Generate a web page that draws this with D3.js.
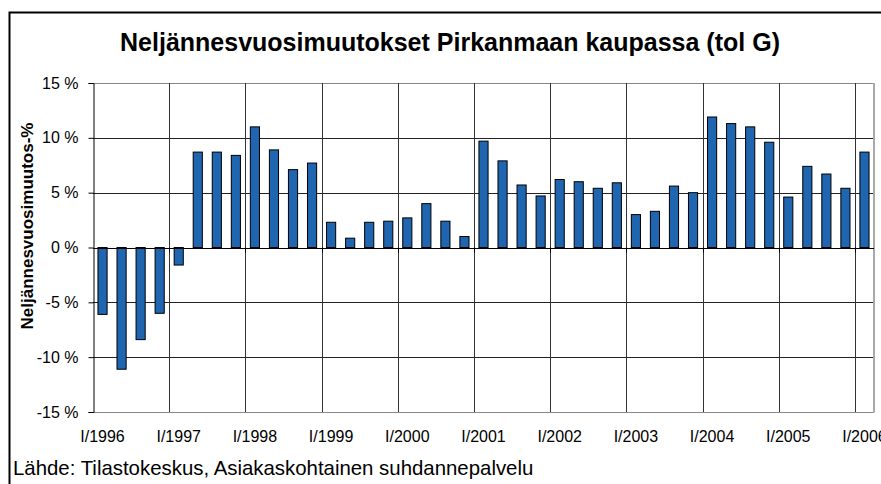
<!DOCTYPE html>
<html>
<head>
<meta charset="utf-8">
<script src="https://cdn.jsdelivr.net/npm/d3@7"></script>
<style>
  body { margin: 0; background: #fff; }
  svg { display: block; font-family: "Liberation Sans", Arial, sans-serif; }
</style>
</head>
<body>
<div id="container"></div>
<script>
let w = 881;
let h = 484;

// data
let years = [1996, 1997, 1998, 1999, 2000, 2001, 2002, 2003, 2004, 2005, 2006];
let quarterNames = ["I", "II", "III", "IV"];
let changes = [
  -6.1, -11.1, -8.4, -6.0,
  -1.6, 8.7, 8.7, 8.4,
  11.0, 8.9, 7.1, 7.7,
  2.3, 0.85, 2.3, 2.4,
  2.7, 4.0, 2.4, 1.0,
  9.7, 7.9, 5.7, 4.7,
  6.2, 6.0, 5.4, 5.9,
  3.0, 3.3, 5.6, 5.0,
  11.9, 11.3, 11.0, 9.6,
  4.6, 7.4, 6.7, 5.4,
  8.7
];
let yTicks = [-15, -10, -5, 0, 5, 10, 15];

// quarter categories I/1996 ... I/2006
let categories = [];
years.forEach(function (y) {
  quarterNames.forEach(function (q) {
    if (categories.length < changes.length) categories.push(q + "/" + y);
  });
});

let data = categories.map(function (c, i) {
  return { label: c, value: changes[i] };
});

let plotLeft = 93, plotRight = 874, plotTop = 83, plotBottom = 412;

let viz = d3.select("#container").append("svg")
  .attr("width", w)
  .attr("height", h);

viz.append("rect").attr("width", w).attr("height", h).attr("fill", "#fff");

// outer chart border
viz.append("path")
  .attr("d", "M9.5," + h + " V12.5 H" + w)
  .attr("fill", "none")
  .attr("stroke", "#000")
  .attr("stroke-width", 2);

let x = d3.scaleBand()
  .domain(categories)
  .range([plotLeft, plotRight])
  .paddingInner(0.52)
  .paddingOuter(0.26);

// boundaries between categories
let xb = d3.scaleLinear().domain([0, categories.length]).range([plotLeft, plotRight]);

let y = d3.scaleLinear().domain([-15, 15]).range([plotBottom, plotTop]);

// horizontal gridlines
viz.append("g").selectAll("line").data(yTicks).enter().append("line")
  .attr("x1", plotLeft).attr("x2", plotRight)
  .attr("y1", function (d) { return Math.round(y(d)) + 0.5; })
  .attr("y2", function (d) { return Math.round(y(d)) + 0.5; })
  .attr("stroke", function (d) { return (d == 15 || d == -15) ? "#888" : "#222"; })
  .attr("stroke-width", 1);

// vertical gridlines at each year
let yearStarts = d3.range(4, categories.length, 4);
viz.append("g").selectAll("line").data(yearStarts).enter().append("line")
  .attr("x1", function (d) { return Math.round(xb(d)) + 0.5; })
  .attr("x2", function (d) { return Math.round(xb(d)) + 0.5; })
  .attr("y1", plotTop).attr("y2", plotBottom)
  .attr("stroke", "#333");

// plot area right edge
viz.append("line")
  .attr("x1", plotRight).attr("x2", plotRight)
  .attr("y1", plotTop).attr("y2", plotBottom + 0.5)
  .attr("stroke", "#aaa").attr("stroke-width", 2);

// bars
viz.append("g").selectAll("rect").data(data).enter().append("rect")
  .attr("x", function (d) { return x(d.label); })
  .attr("width", x.bandwidth())
  .attr("y", function (d) { return y(Math.max(0, d.value)); })
  .attr("height", function (d) { return Math.abs(y(d.value) - y(0)); })
  .attr("fill", "#1f65b0")
  .attr("stroke", "#000")
  .attr("stroke-width", 1);

// zero axis line on top of bars
viz.append("line")
  .attr("x1", plotLeft).attr("x2", plotRight)
  .attr("y1", Math.round(y(0)) + 0.5).attr("y2", Math.round(y(0)) + 0.5)
  .attr("stroke", "#000");

// small category ticks at year boundaries
viz.append("g").selectAll("line").data(yearStarts).enter().append("line")
  .attr("x1", function (d) { return Math.round(xb(d)) + 0.5; })
  .attr("x2", function (d) { return Math.round(xb(d)) + 0.5; })
  .attr("y1", y(0)).attr("y2", y(0) + 5)
  .attr("stroke", "#000");

// y axis
let yAxis = d3.axisLeft(y)
  .tickValues(yTicks)
  .tickSize(5)
  .tickPadding(10)
  .tickFormat(function (d) { return d + " %"; });

let yg = viz.append("g")
  .attr("transform", "translate(" + (plotLeft + 0.5) + ",0)")
  .call(yAxis);
yg.select(".domain").attr("stroke", "#000");
yg.selectAll(".tick line").attr("stroke", "#000");
yg.selectAll(".tick text")
  .attr("font-size", 16)
  .attr("font-family", "Liberation Sans, Arial, sans-serif")
  .attr("fill", "#000");

// x labels every year (the last one runs off the right edge, as in the original)
viz.append("g").selectAll("text").data(data.filter(function (d, i) { return i % 4 == 0; }))
  .enter().append("text")
  .attr("x", function (d) { return x(d.label) + x.bandwidth() / 2; })
  .attr("y", 442)
  .attr("text-anchor", "middle")
  .attr("font-size", 16)
  .text(function (d) { return d.label; });

// titles
viz.append("text")
  .attr("x", 450).attr("y", 51)
  .attr("text-anchor", "middle")
  .attr("font-size", 25)
  .attr("font-weight", "bold")
  .text("Neljännesvuosimuutokset Pirkanmaan kaupassa (tol G)");

viz.append("text")
  .attr("transform", "translate(33,226) rotate(-90)")
  .attr("text-anchor", "middle")
  .attr("font-size", 17)
  .attr("font-weight", "bold")
  .text("Neljännesvuosimuutos-%");

viz.append("text")
  .attr("x", 13).attr("y", 475)
  .attr("font-size", 20.4)
  .text("Lähde: Tilastokeskus, Asiakaskohtainen suhdannepalvelu");
</script>
</body>
</html>
